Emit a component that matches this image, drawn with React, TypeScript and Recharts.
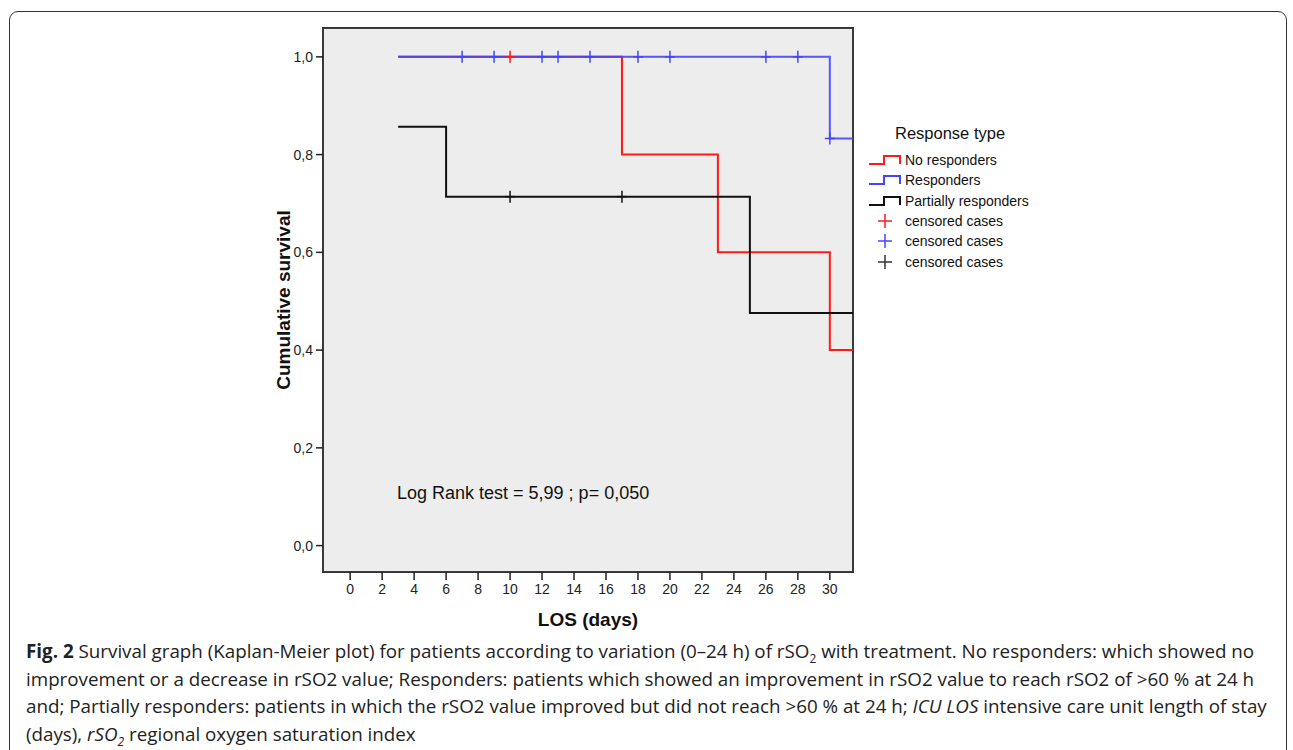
import React from "react"
import {
  ComposedChart,
  Line,
  Scatter,
  XAxis,
  YAxis,
  ReferenceArea,
  Label,
} from "recharts"

// step points per group (day, cumulative survival)
const noRespDays = [3, 17, 23, 30, 33]
const noRespSurv = [1.0, 0.8, 0.6, 0.4, 0.4]
const respDays = [3, 30, 33]
const respSurv = [1.0, 0.833, 0.833]
const partDays = [3, 6, 25, 33]
const partSurv = [0.857, 0.714, 0.476, 0.476]

// censored cases
const noRespCensDays = [10]
const noRespCensSurv = [1.0]
const respCensDays = [7, 9, 12, 13, 15, 18, 20, 26, 28, 30]
const respCensSurv = [1, 1, 1, 1, 1, 1, 1, 1, 1, 0.833]
const partCensDays = [10, 17]
const partCensSurv = [0.714, 0.714]

const xTicks = [0, 2, 4, 6, 8, 10, 12, 14, 16, 18, 20, 22, 24, 26, 28, 30]
const yTicks = [0, 0.2, 0.4, 0.6, 0.8, 1.0]
const xDomain = [-1.7, 31.45]
const yDomain = [-0.054, 1.059]

const RED = "#ff1a1a"
const BLUE = "#4444ff"
const BLACK = "#111111"
const FONT = "'Liberation Sans', Arial, sans-serif"

const zip = (days: number[], surv: number[]) =>
  days.map((d, i) => ({ day: d, surv: surv[i] }))

const cross = (color: string) => (props: any) => {
  const { cx, cy } = props
  return (
    <g>
      <line x1={cx} y1={cy - 6} x2={cx} y2={cy + 6} stroke={color} strokeWidth={1.5} />
      <line x1={cx - 5} y1={cy} x2={cx + 5} y2={cy} stroke={color} strokeWidth={1.5} />
    </g>
  )
}

const legendSteps = [
  { label: "No responders", color: RED },
  { label: "Responders", color: BLUE },
  { label: "Partially responders", color: BLACK },
]
const legendCens = [RED, BLUE, "#333333"]

function StepIcon({ color }: { color: string }) {
  return (
    <svg width={34} height={14} style={{ display: "block" }}>
      <path d="M1 11 H16 V3 H32 V11" fill="none" stroke={color} strokeWidth={2} />
    </svg>
  )
}

function CrossIcon({ color }: { color: string }) {
  return (
    <svg width={34} height={16} style={{ display: "block" }}>
      <line x1={17} y1={1} x2={17} y2={15} stroke={color} strokeWidth={1.5} />
      <line x1={10} y1={8} x2={24} y2={8} stroke={color} strokeWidth={1.5} />
    </svg>
  )
}

export default function App() {
  return (
    <div style={{ position: "absolute", left: 0, top: 0, width: 1293, height: 750, background: "#fff", overflow: "hidden" }}>
      <div
        style={{
          position: "absolute",
          left: 9,
          top: 11,
          width: 1278,
          height: 800,
          border: "1.5px solid #333",
          borderRadius: 9,
          boxSizing: "border-box",
        }}
      />
      <div style={{ position: "absolute", left: 0, top: 0 }}>
        <ComposedChart
          width={1293}
          height={660}
          margin={{ top: 28, right: 440, left: 263, bottom: 28 }}
        >
          <XAxis
            type="number"
            dataKey="day"
            domain={xDomain}
            allowDataOverflow
            ticks={xTicks}
            interval={0}
            height={60}
            axisLine={false}
            tickSize={8}
            tickMargin={4}
            tickLine={{ stroke: "#222", strokeWidth: 1.5 }}
            tick={{ fill: "#222", fontSize: 14, fontFamily: FONT }}
          >
            <Label
              content={({ viewBox }: any) => (
                <text
                  x={viewBox.x + viewBox.width / 2}
                  y={viewBox.y + 54}
                  textAnchor="middle"
                  fontFamily={FONT}
                  fontWeight="bold"
                  fontSize={19}
                  fill="#111"
                >
                  LOS (days)
                </text>
              )}
            />
          </XAxis>
          <YAxis
            type="number"
            dataKey="surv"
            domain={yDomain}
            allowDataOverflow
            ticks={yTicks}
            interval={0}
            width={60}
            axisLine={false}
            tickSize={7}
            tickMargin={3}
            tickLine={{ stroke: "#222", strokeWidth: 1.5 }}
            tick={{ fill: "#222", fontSize: 14, fontFamily: FONT }}
            tickFormatter={(v: number) => v.toFixed(1).replace(".", ",")}
          >
            <Label
              content={({ viewBox }: any) => {
                const x = viewBox.x + 27
                const y = viewBox.y + viewBox.height / 2
                return (
                  <text
                    x={x}
                    y={y}
                    transform={`rotate(-90 ${x} ${y})`}
                    textAnchor="middle"
                    fontFamily={FONT}
                    fontWeight="bold"
                    fontSize={19}
                    fill="#111"
                  >
                    Cumulative survival
                  </text>
                )
              }}
            />
          </YAxis>
          <ReferenceArea
            x1={xDomain[0]}
            x2={xDomain[1]}
            y1={yDomain[0]}
            y2={yDomain[1]}
            fill="#ededed"
            fillOpacity={1}
            stroke="#3a3a3a"
            strokeWidth={2}
          />
          <Line
            data={zip(noRespDays, noRespSurv)}
            dataKey="surv"
            type="stepAfter"
            stroke={RED}
            strokeWidth={2}
            dot={false}
            isAnimationActive={false}
          />
          <Line
            data={zip(partDays, partSurv)}
            dataKey="surv"
            type="stepAfter"
            stroke={BLACK}
            strokeWidth={2}
            dot={false}
            isAnimationActive={false}
          />
          <Line
            data={zip(respDays, respSurv)}
            dataKey="surv"
            type="stepAfter"
            stroke={BLUE}
            strokeWidth={2}
            strokeOpacity={0.9}
            dot={false}
            isAnimationActive={false}
          />
          <Scatter
            data={zip(respCensDays, respCensSurv)}
            dataKey="surv"
            shape={cross(BLUE)}
            isAnimationActive={false}
          />
          <Scatter
            data={zip(noRespCensDays, noRespCensSurv)}
            dataKey="surv"
            shape={cross(RED)}
            isAnimationActive={false}
          />
          <Scatter
            data={zip(partCensDays, partCensSurv)}
            dataKey="surv"
            shape={cross(BLACK)}
            isAnimationActive={false}
          />
        </ComposedChart>
      </div>

      <div
        style={{
          position: "absolute",
          left: 397,
          top: 483,
          fontFamily: FONT,
          fontSize: 18,
          color: "#111",
          whiteSpace: "nowrap",
        }}
      >
        Log Rank test = 5,99 ; p= 0,050
      </div>

      <div style={{ position: "absolute", left: 868, top: 122, fontFamily: FONT, color: "#111" }}>
        <div style={{ fontSize: 16.5, marginLeft: 27, height: 28, lineHeight: "22px" }}>Response type</div>
        {legendSteps.map((s) => (
          <div key={s.label} style={{ display: "flex", alignItems: "center", height: 20.3, fontSize: 14 }}>
            <StepIcon color={s.color} />
            <span style={{ marginLeft: 3 }}>{s.label}</span>
          </div>
        ))}
        {legendCens.map((c, i) => (
          <div key={i} style={{ display: "flex", alignItems: "center", height: 20.3, fontSize: 14 }}>
            <CrossIcon color={c} />
            <span style={{ marginLeft: 3 }}>censored cases</span>
          </div>
        ))}
      </div>

      <div
        style={{
          position: "absolute",
          left: 26,
          top: 638,
          fontFamily: "'Open Sans', sans-serif",
          fontSize: 18.8,
          lineHeight: "27.7px",
          color: "#222",
          whiteSpace: "nowrap",
        }}
      >
        <b>Fig. 2</b> Survival graph (Kaplan-Meier plot) for patients according to variation (0–24 h) of rSO<sub style={{ fontSize: 12, lineHeight: 0 }}>2</sub> with treatment. No responders: which showed no
        <br />
        improvement or a decrease in rSO2 value; Responders: patients which showed an improvement in rSO2 value to reach rSO2 of &gt;60 % at 24 h
        <br />
        and; Partially responders: patients in which the rSO2 value improved but did not reach &gt;60 % at 24 h; <i>ICU LOS</i> intensive care unit length of stay
        <br />
        (days), <i>rSO<sub style={{ fontSize: 12, lineHeight: 0 }}>2</sub></i> regional oxygen saturation index
      </div>
    </div>
  )
}
